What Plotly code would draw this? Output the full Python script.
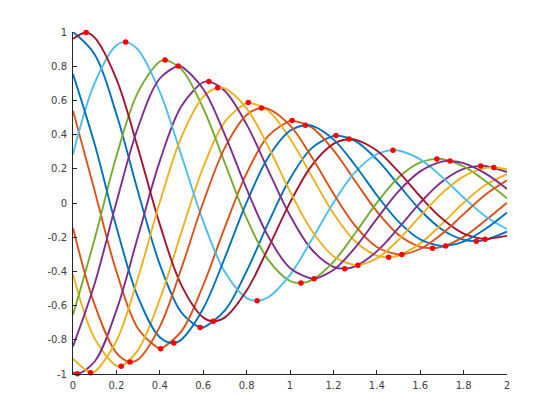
import plotly.graph_objects as go

# ---- data ----
x_vals = [0.0, 0.1, 0.2, 0.3, 0.4, 0.5, 0.6, 0.7, 0.8, 0.9, 1.0,
          1.1, 1.2, 1.3, 1.4, 1.5, 1.6, 1.7, 1.8, 1.9, 2.0]

curve_1 = [1.000, .869, .520, .065, -.359, -.641, -.728, -.628, -.399, -.116, .142,
           .321, .393, .363, .255, .107, -.041, -.155, -.215, -.216, -.168]
curve_2 = [.540, .070, -.400, -.735, -.853, -.749, -.481, -.141, .173, .392, .480,
           .442, .309, .129, -.049, -.185, -.256, -.256, -.198, -.103, .001]
curve_3 = [-.416, -.793, -.952, -.859, -.563, -.169, .209, .476, .586, .540, .377,
           .157, -.060, -.224, -.308, -.307, -.236, -.122, .001, .105, .169]
curve_4 = [-.990, -.927, -.628, -.193, .245, .567, .706, .655, .460, .191, -.073,
           -.272, -.373, -.371, -.283, -.146, .001, .124, .199, .216, .181]
curve_5 = [-.654, -.209, .273, .650, .828, .781, .554, .233, -.089, -.333, -.456,
           -.451, -.344, -.177, .001, .149, .237, .257, .214, .129, .027]
curve_6 = [.284, .702, .923, .896, .650, .277, -.107, -.404, -.556, -.551, -.420,
           -.215, .002, .180, .285, .307, .255, .153, .032, -.077, -.152]
curve_7 = [.960, .967, .725, .318, -.125, -.482, -.670, -.669, -.512, -.263, .002,
           .219, .346, .371, .307, .183, .038, -.091, -.179, -.212, -.192]
curve_8 = [.754, .343, -.140, -.552, -.785, -.798, -.617, -.319, .003, .267, .422,
           .452, .372, .221, .046, -.109, -.213, -.252, -.226, -.152, -.055]
curve_9 = [-.146, -.596, -.876, -.915, -.723, -.380, .003, .324, .515, .551, .454,
           .269, .056, -.132, -.257, -.301, -.269, -.181, -.065, .048, .132]
curve_10 = [-.911, -.987, -.807, -.436, .004, .387, .621, .670, .553, .329, .068,
            -.161, -.311, -.364, -.324, -.216, -.077, .056, .156, .204, .198]
curve_11 = [-.839, -.471, .004, .443, .728, .798, .667, .399, .083, -.196, -.380,
            -.443, -.392, -.261, -.093, .068, .185, .242, .233, .173, .082]

curves = [curve_1, curve_2, curve_3, curve_4, curve_5, curve_6,
          curve_7, curve_8, curve_9, curve_10, curve_11]

# local extrema (red dots): which curve, x, y
dot_curve = [0, 0, 0, 1, 1, 1, 2, 2, 2, 3, 3, 3, 3, 4, 4, 4, 5, 5, 5,
             6, 6, 6, 6, 7, 7, 7, 8, 8, 8, 9, 9, 9, 9, 10, 10, 10]
dot_x = [.5859, 1.2121, 1.8586, .4040, 1.0101, 1.6566, .2222, .8081, 1.4545,
         .0202, .6263, 1.2525, 1.8788, .4242, 1.0505, 1.6768, .2424, .8485, 1.4747,
         .0606, .6465, 1.2727, 1.8990, .4646, 1.0707, 1.7172, .2626, .8687, 1.5152,
         .0808, .6667, 1.3131, 1.9394, .4848, 1.1111, 1.7374]
dot_y = [-.728, .395, -.223, -.853, .482, -.264, -.954, .588, -.317,
         -.999, .710, -.384, .217, .836, -.468, .258, .942, -.572, .309,
         .997, -.692, .374, -.212, -.819, .455, -.252, -.930, .556, -.301,
         -.993, .674, -.364, .208, .801, -.443, .246]

x_ticks = [0, 0.2, 0.4, 0.6, 0.8, 1, 1.2, 1.4, 1.6, 1.8, 2]
x_tick_text = ["0", "0.2", "0.4", "0.6", "0.8", "1", "1.2", "1.4", "1.6", "1.8", "2"]
y_ticks = [-1, -0.8, -0.6, -0.4, -0.2, 0, 0.2, 0.4, 0.6, 0.8, 1]
y_tick_text = ["-1", "-0.8", "-0.6", "-0.4", "-0.2", "0", "0.2", "0.4", "0.6", "0.8", "1"]

# ---- styling ----
colors = ["#0072BD", "#D95319", "#EDB120", "#7E2F8E", "#77AC30", "#4DBEEE", "#A2142F"]
axis_color = "#262626"

fig = go.Figure()
for i, ys in enumerate(curves):
    pts = list(zip(x_vals, ys))
    pts += [(dx, dy) for c, dx, dy in zip(dot_curve, dot_x, dot_y) if c == i]
    pts.sort()
    fig.add_trace(go.Scatter(
        x=[p[0] for p in pts], y=[p[1] for p in pts], mode="lines",
        line=dict(color=colors[i % len(colors)], width=1.9, shape="spline", smoothing=1),
        showlegend=False, hoverinfo="skip"))

fig.add_trace(go.Scatter(
    x=dot_x, y=dot_y, mode="markers",
    marker=dict(color="#FF0000", size=5.5, line=dict(width=0)),
    cliponaxis=False, showlegend=False, hoverinfo="skip"))

font = dict(family="DejaVu Sans, Liberation Sans, Arial, sans-serif", size=10, color="#404040")
axis_common = dict(showgrid=False, zeroline=False, showline=True, linecolor=axis_color,
                   linewidth=1, ticks="inside", ticklen=4, tickcolor=axis_color,
                   tickwidth=1, tickfont=font, mirror=False, fixedrange=True)

# page body has an 8px default margin: figure is 552x412 placed at (8, 8)
fig.update_layout(
    width=552, height=412,
    margin=dict(l=65, r=53, t=24, b=46, pad=0),
    paper_bgcolor="white", plot_bgcolor="white",
    xaxis=dict(range=[0, 2], tickvals=x_ticks, ticktext=x_tick_text,
               ticklabelstandoff=2, **axis_common),
    yaxis=dict(range=[-1, 1], tickvals=y_ticks, ticktext=y_tick_text,
               ticklabelstandoff=3, **axis_common),
)

fig.write_html("out.html")
